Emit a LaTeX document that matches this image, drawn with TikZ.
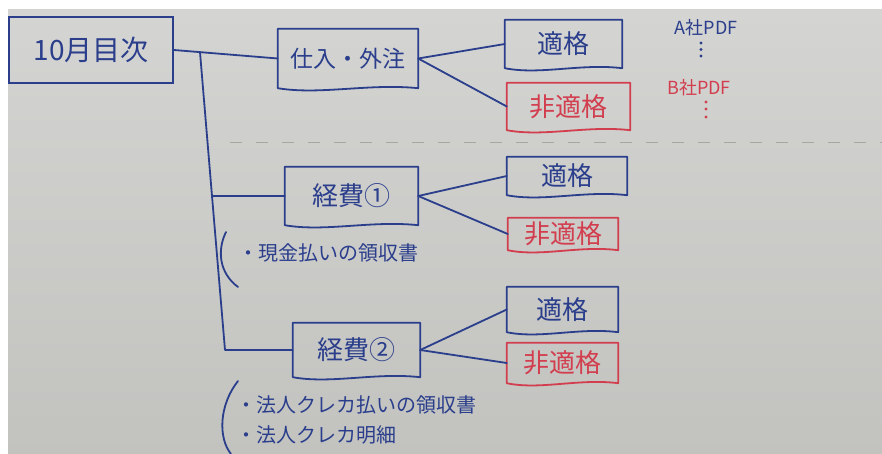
\documentclass[tikz,border=0pt]{standalone}
\usepackage{fontspec}
\newfontfamily\jp{Noto Sans CJK JP}
\usetikzlibrary{calc}
\definecolor{boardtop}{RGB}{212,212,210}
\definecolor{boardbot}{RGB}{194,194,191}
\definecolor{inkblue}{RGB}{42,62,140}
\definecolor{inkred}{RGB}{210,62,78}
\definecolor{dashgray}{RGB}{165,165,162}
\newcommand\docbox[2]{%
  \draw[#1] (#2.south west) -- (#2.north west) -- (#2.north east) -- (#2.south east)
   .. controls ($(#2.south east)!0.35!(#2.south west)+(0,-5)$) and ($(#2.south east)!0.7!(#2.south west)+(0,7)$) .. (#2.south west);}
\begin{document}
\begin{tikzpicture}[x=1pt,y=-1pt,
  blueline/.style={draw=inkblue,line width=1.8pt,line join=round,line cap=round},
  redline/.style={draw=inkred,line width=1.8pt,line join=round,line cap=round},
  wbox/.style={inner sep=0pt,text=inkblue,font=\jp\fontsize{26}{26}\selectfont},
  rbox/.style={wbox,text=inkred},
  note/.style={inner sep=0pt,anchor=west,text=inkblue,font=\jp\fontsize{20}{20}\selectfont},
  pdf/.style={inner sep=0pt,font=\jp\fontsize{18}{18}\selectfont}]
\useasboundingbox (0,0) rectangle (882,454);
\fill[white] (0,0) rectangle (882,454);
\shade[top color=boardtop,bottom color=boardbot] (8,10) rectangle (882,454);
% dashed divider
\draw[dashgray,line width=1pt,dash pattern=on 12pt off 14pt] (230,143) -- (882,143);
% boxes
\node[wbox,draw=inkblue,line width=1.8pt,minimum width=164pt,minimum height=66pt,font=\jp\fontsize{28}{28}\selectfont] (root) at (91,50) {10月目次};
\node[wbox,minimum width=140pt,minimum height=59pt,font=\jp\fontsize{23}{23}\selectfont] (sh) at (348,58.5) {仕入・外注};
\node[wbox,minimum width=117pt,minimum height=48pt] (q1) at (563.5,44) {適格};
\node[rbox,minimum width=123pt,minimum height=47pt] (nq1) at (568.5,106.5) {非適格};
\node[wbox,minimum width=133pt,minimum height=58pt] (k1) at (351.5,196) {経費①};
\node[wbox,minimum width=120pt,minimum height=38pt] (q2) at (567,176) {適格};
\node[rbox,minimum width=110pt,minimum height=32pt] (nq2) at (563,234) {非適格};
\node[wbox,minimum width=127pt,minimum height=54pt] (k2) at (356.5,350) {経費②};
\node[wbox,minimum width=111pt,minimum height=45pt] (q3) at (562.5,309.5) {適格};
\node[rbox,minimum width=111pt,minimum height=40pt] (nq3) at (562.5,363) {非適格};
\docbox{blueline}{sh}
\docbox{blueline}{q1}
\docbox{redline}{nq1}
\docbox{blueline}{k1}
\docbox{blueline}{q2}
\docbox{redline}{nq2}
\docbox{blueline}{k2}
\docbox{blueline}{q3}
\docbox{redline}{nq3}
% tree connectors
\coordinate (t0) at (200,52.2);
\coordinate (t1) at (212,196);
\coordinate (t2) at (225,350);
\draw[blueline] (root.east) -- (sh.west);
\draw[blueline] (t0) -- (t1) -- (t2) -- (k2.west);
\draw[blueline] (t1) -- (k1.west);
\draw[blueline] (sh.east) -- (q1.west);
\draw[blueline] (sh.east) -- (nq1.west);
\draw[blueline] (k1.east) -- (q2.west);
\draw[blueline] (k1.east) -- (nq2.west);
\draw[blueline] (k2.east) -- (q3.west);
\draw[blueline] (k2.east) -- (nq3.west);
% PDF notes
\node[pdf,text=inkblue] (pa) at (706,28) {A社PDF};
\node[pdf,text=inkred] (pb) at (699,88) {B社PDF};
\foreach \yy in {43,49.5,56} \fill[inkblue] (701,\yy) circle (1.6);
\foreach \yy in {102,109,117} \fill[inkred] (706,\yy) circle (1.6);
% notes with brackets
\draw[blueline] (226,232) .. controls (217,250) and (219,273) .. (238,287);
\node[note] (n1) at (238,253) {・現金払いの領収書};
\draw[blueline] (238,381) .. controls (219,405) and (218,438) .. (231,454);
\node[note] (n2) at (236,405) {・法人クレカ払いの領収書};
\node[note] (n3) at (236,435) {・法人クレカ明細};
\end{tikzpicture}
\end{document}
